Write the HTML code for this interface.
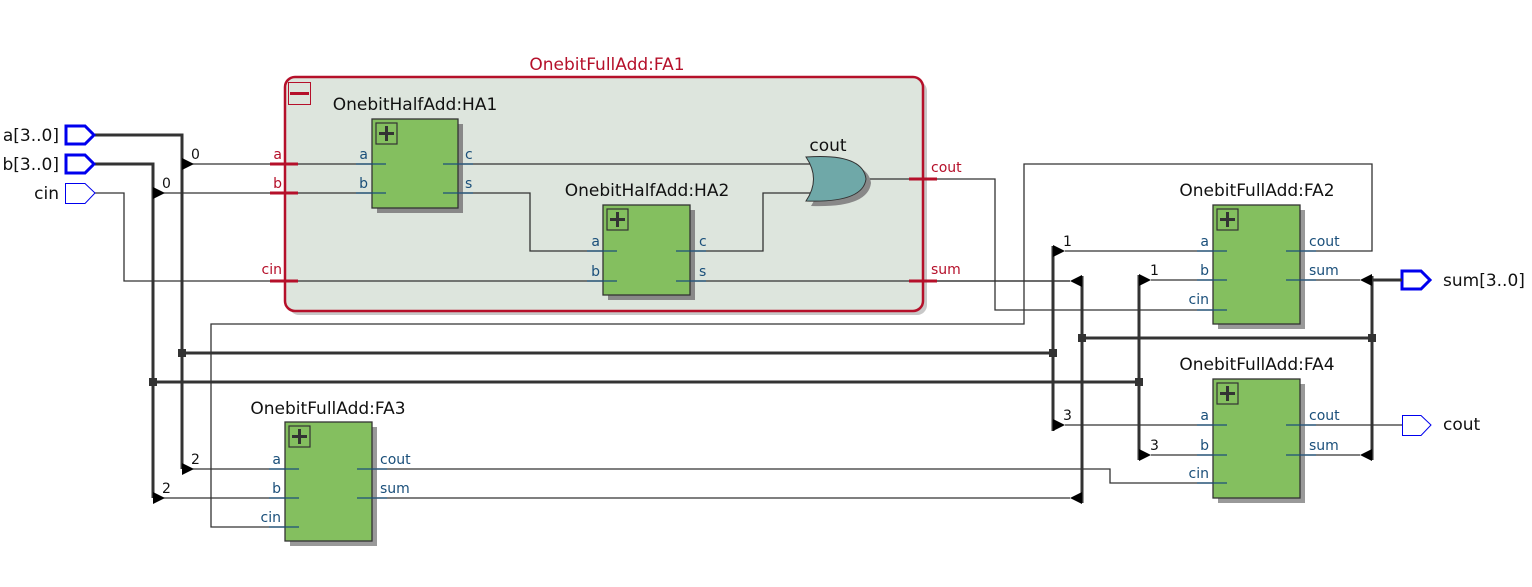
<!DOCTYPE html>
<html><head><meta charset="utf-8"><style>
html,body{margin:0;padding:0;background:#fff;}
svg{display:block;font-family:"DejaVu Sans","Liberation Sans",sans-serif;}
.t{font-size:17px;fill:#111;}
.p{font-size:14px;fill:#1a4f7a;}
.r{font-size:14px;fill:#b5102a;}
.n{font-size:14px;fill:#111;}
.io{font-size:17px;fill:#111;}
</style></head><body>
<svg width="1532" height="587" viewBox="0 0 1532 587" xmlns="http://www.w3.org/2000/svg">
<rect x="289" y="81" width="638" height="234" rx="10" fill="#c8c8c8"/>
<rect x="285" y="77" width="638" height="234" rx="10" fill="#dde5dd" stroke="#b5102a" stroke-width="2.5"/>
<text x="607" y="70" class="t" style="fill:#b5102a" text-anchor="middle">OnebitFullAdd:FA1</text>
<rect x="288.5" y="82.5" width="22" height="22" fill="none" stroke="#b5102a" stroke-width="1"/>
<rect x="290" y="92" width="19" height="3" fill="#b5102a"/>

<g stroke="#333" stroke-width="1.3" fill="none">
<polyline points="95,193 124,193 124,281 603,281"/>
<line x1="192" y1="164" x2="372" y2="164"/>
<line x1="163" y1="193" x2="372" y2="193"/>
<line x1="458" y1="164" x2="815" y2="164"/>
<polyline points="458,193 530,193 530,251 603,251"/>
<polyline points="690,251 763,251 763,193 815,193"/>
<line x1="690" y1="281" x2="1070" y2="281"/>
<polyline points="866,179 995,179 995,310 1213,310"/>
<polyline points="1300,251 1372,251 1372,164 1024,164 1024,324 211,324 211,527 285,527"/>
<line x1="1065" y1="251" x2="1213" y2="251"/>
<line x1="1151" y1="280" x2="1213" y2="280"/>
<line x1="1065" y1="425" x2="1213" y2="425"/>
<line x1="1151" y1="455" x2="1213" y2="455"/>
<line x1="1300" y1="280" x2="1360" y2="280"/>
<line x1="1300" y1="455" x2="1360" y2="455"/>
<line x1="1300" y1="425" x2="1402" y2="425"/>
<line x1="192" y1="469" x2="285" y2="469"/>
<line x1="163" y1="498" x2="285" y2="498"/>
<polyline points="372,469 1110,469 1110,483 1213,483"/>
<line x1="372" y1="498" x2="1070" y2="498"/>
</g>

<g stroke="#333" stroke-width="3" fill="none">
<polyline points="95,135 182,135 182,469"/>
<polyline points="95,164 153,164 153,498"/>
<line x1="182" y1="353" x2="1053" y2="353"/>
<line x1="153" y1="382" x2="1139" y2="382"/>
<line x1="1053" y1="246" x2="1053" y2="431"/>
<line x1="1139" y1="275" x2="1139" y2="460"/>
<line x1="1082" y1="276" x2="1082" y2="503"/>
<line x1="1372" y1="276" x2="1372" y2="460"/>
<line x1="1082" y1="338" x2="1372" y2="338"/>
<line x1="1372" y1="280" x2="1402" y2="280"/>
</g>
<g fill="#333">
<rect x="178" y="349" width="8" height="8"/><rect x="149" y="378" width="8" height="8"/>
<rect x="1049" y="349" width="8" height="8"/><rect x="1135" y="378" width="8" height="8"/>
<rect x="1078" y="334" width="8" height="8"/><rect x="1368" y="334" width="8" height="8"/>
</g>
<g fill="#000">
<polygon points="182,158 182,170 194,164"/>
<polygon points="153,187 153,199 165,193"/>
<polygon points="182,463 182,475 194,469"/>
<polygon points="153,492 153,504 165,498"/>
<polygon points="1053,245 1053,257 1065,251"/>
<polygon points="1053,419 1053,431 1065,425"/>
<polygon points="1139,274 1139,286 1151,280"/>
<polygon points="1139,449 1139,461 1151,455"/>
<polygon points="1082,275 1082,287 1070,281"/>
<polygon points="1082,492 1082,504 1070,498"/>
<polygon points="1372,274 1372,286 1360,280"/>
<polygon points="1372,449 1372,461 1360,455"/>
</g>
<g class="n">
<text x="191" y="159">0</text><text x="162" y="188">0</text>
<text x="191" y="464">2</text><text x="162" y="493">2</text>
<text x="1063" y="246">1</text><text x="1150" y="275">1</text>
<text x="1063" y="420">3</text><text x="1150" y="450">3</text>
</g>

<g stroke="#b5102a" stroke-width="3">
<line x1="270" y1="164" x2="298" y2="164"/>
<line x1="270" y1="193" x2="298" y2="193"/>
<line x1="270" y1="281" x2="298" y2="281"/>
<line x1="909" y1="179" x2="937" y2="179"/>
<line x1="909" y1="281" x2="937" y2="281"/>
</g>
<line x1="937" y1="281" x2="1070" y2="281" stroke="#333" stroke-width="1.3"/>
<text x="282" y="159" class="r" text-anchor="end">a</text>
<text x="282" y="188" class="r" text-anchor="end">b</text>
<text x="282" y="274" class="r" text-anchor="end">cin</text>
<text x="931" y="172" class="r">cout</text>
<text x="931" y="274" class="r">sum</text>

<path d="M811,162 Q868,158 871,183 Q868,208 811,206 Q826,183 811,162Z" fill="#888"/>
<path d="M806,157 Q863,153 866,179 Q863,203 806,201 Q821,179 806,157Z" fill="#6fa8a8" stroke="#333" stroke-width="1"/>
<text x="828" y="151" class="t" text-anchor="middle">cout</text>

<g stroke="#333" stroke-width="1.3">
<rect x="377" y="124" width="86" height="89" fill="#888" stroke="none"/>
<rect x="372" y="119" width="86" height="89" fill="#84bf5f"/>
<rect x="608" y="210" width="87" height="90" fill="#888" stroke="none"/>
<rect x="603" y="205" width="87" height="90" fill="#84bf5f"/>
<rect x="1218" y="210" width="87" height="119" fill="#999" stroke="none"/>
<rect x="1213" y="205" width="87" height="119" fill="#84bf5f"/>
<rect x="1218" y="384" width="87" height="119" fill="#999" stroke="none"/>
<rect x="1213" y="379" width="87" height="119" fill="#84bf5f"/>
<rect x="290" y="427" width="87" height="119" fill="#999" stroke="none"/>
<rect x="285" y="422" width="87" height="119" fill="#84bf5f"/>
</g>
<g fill="none" stroke="#333">
<g transform="translate(376,123)"><rect x="0" y="0" width="21" height="21" stroke-width="1.2"/><path d="M10.5,3V18M3,10.5H18" stroke-width="3"/></g>
<g transform="translate(607,209)"><rect x="0" y="0" width="21" height="21" stroke-width="1.2"/><path d="M10.5,3V18M3,10.5H18" stroke-width="3"/></g>
<g transform="translate(1217,209)"><rect x="0" y="0" width="21" height="21" stroke-width="1.2"/><path d="M10.5,3V18M3,10.5H18" stroke-width="3"/></g>
<g transform="translate(1217,383)"><rect x="0" y="0" width="21" height="21" stroke-width="1.2"/><path d="M10.5,3V18M3,10.5H18" stroke-width="3"/></g>
<g transform="translate(289,426)"><rect x="0" y="0" width="21" height="21" stroke-width="1.2"/><path d="M10.5,3V18M3,10.5H18" stroke-width="3"/></g>
</g>
<g stroke="#1a4f7a" stroke-width="1.3">
<line x1="356" y1="164" x2="386" y2="164"/><line x1="356" y1="193" x2="386" y2="193"/>
<line x1="443" y1="164" x2="473" y2="164"/><line x1="443" y1="193" x2="473" y2="193"/>
<line x1="587" y1="251" x2="617" y2="251"/><line x1="587" y1="281" x2="617" y2="281"/>
<line x1="676" y1="251" x2="706" y2="251"/><line x1="676" y1="281" x2="706" y2="281"/>
<line x1="1197" y1="251" x2="1227" y2="251"/><line x1="1197" y1="280" x2="1227" y2="280"/><line x1="1197" y1="310" x2="1227" y2="310"/>
<line x1="1286" y1="251" x2="1316" y2="251"/><line x1="1286" y1="280" x2="1316" y2="280"/>
<line x1="1197" y1="425" x2="1227" y2="425"/><line x1="1197" y1="455" x2="1227" y2="455"/><line x1="1197" y1="483" x2="1227" y2="483"/>
<line x1="1286" y1="425" x2="1316" y2="425"/><line x1="1286" y1="455" x2="1316" y2="455"/>
<line x1="269" y1="469" x2="299" y2="469"/><line x1="269" y1="498" x2="299" y2="498"/><line x1="269" y1="527" x2="299" y2="527"/>
<line x1="357" y1="469" x2="387" y2="469"/><line x1="357" y1="498" x2="387" y2="498"/>
</g>
<g class="p">
<text x="368" y="159" text-anchor="end">a</text><text x="368" y="188" text-anchor="end">b</text>
<text x="465" y="159">c</text><text x="465" y="188">s</text>
<text x="600" y="246" text-anchor="end">a</text><text x="600" y="276" text-anchor="end">b</text>
<text x="699" y="246">c</text><text x="699" y="276">s</text>
<text x="1209" y="246" text-anchor="end">a</text><text x="1209" y="275" text-anchor="end">b</text><text x="1209" y="304" text-anchor="end">cin</text>
<text x="1309" y="246">cout</text><text x="1309" y="275">sum</text>
<text x="1209" y="420" text-anchor="end">a</text><text x="1209" y="450" text-anchor="end">b</text><text x="1209" y="478" text-anchor="end">cin</text>
<text x="1309" y="420">cout</text><text x="1309" y="450">sum</text>
<text x="281" y="464" text-anchor="end">a</text><text x="281" y="493" text-anchor="end">b</text><text x="281" y="522" text-anchor="end">cin</text>
<text x="380" y="464">cout</text><text x="380" y="493">sum</text>
</g>
<g class="t">
<text x="415" y="110" text-anchor="middle">OnebitHalfAdd:HA1</text>
<text x="647" y="196" text-anchor="middle">OnebitHalfAdd:HA2</text>
<text x="1257" y="196" text-anchor="middle">OnebitFullAdd:FA2</text>
<text x="1257" y="370" text-anchor="middle">OnebitFullAdd:FA4</text>
<text x="328" y="414" text-anchor="middle">OnebitFullAdd:FA3</text>
</g>
<g fill="#fff" stroke="#0000ee">
<polygon points="66,126 85,126 94,135 85,144 66,144" stroke-width="3"/>
<polygon points="66,155 85,155 94,164 85,173 66,173" stroke-width="3"/>
<polygon points="65.5,183.5 85,183.5 95,193 85,203.5 65.5,203.5" stroke-width="1"/>
<polygon points="1402,271 1421,271 1430,280 1421,289 1402,289" stroke-width="3"/>
<polygon points="1402.5,415.5 1421,415.5 1431,425 1421,435.5 1402.5,435.5" stroke-width="1"/>
</g>
<line x1="1372" y1="280" x2="1402" y2="280" stroke="#333" stroke-width="3"/>
<g class="io">
<text x="59" y="141" text-anchor="end">a[3..0]</text>
<text x="59" y="170" text-anchor="end">b[3..0]</text>
<text x="59" y="199" text-anchor="end">cin</text>
<text x="1443" y="286">sum[3..0]</text>
<text x="1443" y="430">cout</text>
</g>
</svg>
</body></html>
